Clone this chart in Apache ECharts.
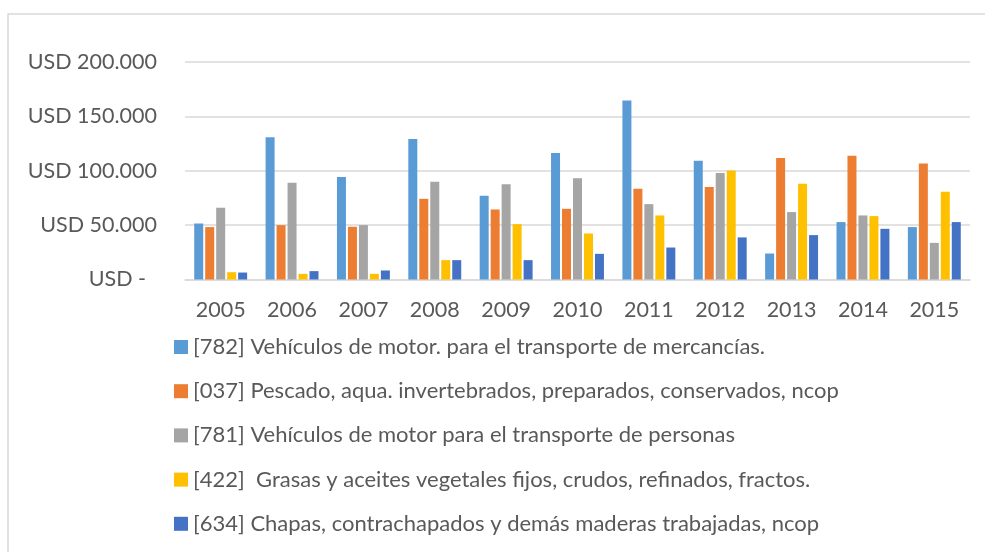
<!DOCTYPE html>
<html>
<head>
<meta charset="utf-8">
<script src="https://cdn.jsdelivr.net/npm/echarts@6/dist/echarts.min.js"></script>
<style>
html,body{margin:0;padding:0;background:#fff;}
#chart{width:985px;height:552px;}
</style>
</head>
<body>
<div id="chart"></div>
<script>
const years = ['2005','2006','2007','2008','2009','2010','2011','2012','2013','2014','2015'];
const seriesNames = [
  '[782] Vehículos de motor. para el transporte de mercancías.',
  '[037] Pescado, aqua. invertebrados, preparados, conservados, ncop',
  '[781] Vehículos de motor para el transporte de personas',
  '[422]  Grasas y aceites vegetales fijos, crudos, refinados, fractos.',
  '[634] Chapas, contrachapados y demás maderas trabajadas, ncop'
];
const s782 = [51500, 130700, 94200, 129100, 77000, 116300, 164700, 109200, 23900, 52800, 48200];
const s037 = [48200, 50000, 48500, 74200, 64400, 65000, 83400, 85000, 111700, 113800, 106700];
const s781 = [66000, 89000, 50000, 89900, 87700, 93000, 69300, 97900, 62000, 58900, 33700];
const s422 = [6700, 5200, 5200, 17800, 50900, 42300, 58900, 100300, 88000, 58300, 80700];
const s634 = [6400, 7700, 8300, 17800, 17800, 23600, 29400, 38700, 40800, 46600, 52800];
const colors = ['#5B9BD5', '#ED7D31', '#A5A5A5', '#FFC000', '#4472C4'];
const yTicks = { min: 0, max: 200000, interval: 50000 };

const FONT = 'Lato';
const TXT = '#595959';
const allData = [s782, s037, s781, s422, s634];

function fmt(v) {
  if (v === 0) return 'USD -  ';
  return 'USD ' + String(v).replace(/\B(?=(\d{3})+(?!\d))/g, '.');
}

const chart = echarts.init(document.getElementById('chart'), null, { renderer: 'canvas' });
chart.setOption({
  animation: false,
  color: colors,
  textStyle: { fontFamily: FONT },
  graphic: [{
    type: 'rect',
    shape: { x: 8, y: 14, width: 1000, height: 600 },
    style: { fill: 'none', stroke: '#D9D9D9', lineWidth: 1.5 },
    silent: true
  }],
  grid: { left: 185, right: 15, top: 62, bottom: 272.5, containLabel: false },
  legend: {
    orient: 'vertical',
    left: 169,
    top: 331,
    itemWidth: 14,
    itemHeight: 14,
    itemGap: 22.2,
    icon: 'rect',
    textStyle: { color: TXT, fontSize: 22, fontFamily: FONT, lineHeight: 22 },
    data: seriesNames
  },
  xAxis: {
    type: 'category',
    data: years,
    axisLine: { lineStyle: { color: '#D9D9D9', width: 1.5 } },
    axisTick: { show: false },
    axisLabel: { color: TXT, fontSize: 21.5, fontFamily: FONT, margin: 20 }
  },
  yAxis: {
    type: 'value',
    min: yTicks.min,
    max: yTicks.max,
    interval: yTicks.interval,
    axisLine: { show: false },
    axisTick: { show: false },
    splitLine: { lineStyle: { color: '#D9D9D9', width: 1.5 } },
    axisLabel: { color: TXT, fontSize: 21.5, fontFamily: FONT, margin: 28, formatter: fmt }
  },
  series: seriesNames.map((n, i) => ({
    name: n,
    type: 'bar',
    data: allData[i],
    barWidth: 9,
    barGap: '22%',
    itemStyle: { color: colors[i] }
  }))
});
</script>
</body>
</html>
